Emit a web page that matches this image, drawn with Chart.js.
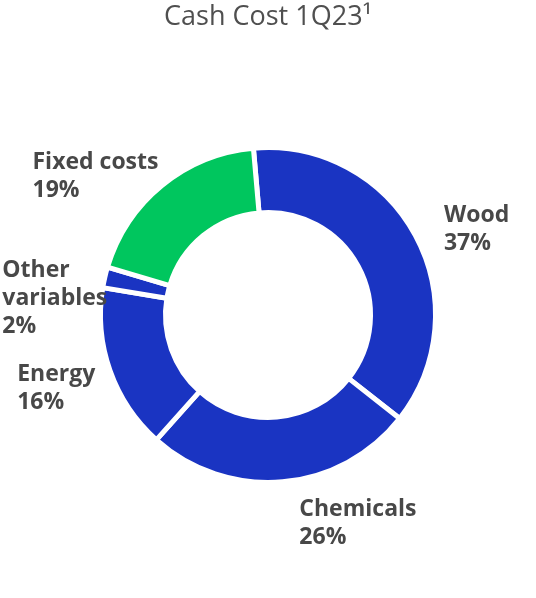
<!DOCTYPE html>
<html>
<head>
<meta charset="utf-8">
<script src="https://cdn.jsdelivr.net/npm/chart.js@4"></script>
<style>
  html, body { margin: 0; padding: 0; background: #ffffff; }
  #wrap { position: relative; width: 536px; height: 598px; }
</style>
</head>
<body>
<div id="wrap"><canvas id="cashCost"></canvas></div>
<script>
// datos del gráfico
var chartTitle = "Cash Cost 1Q23\u00B9";
var categories = ["Wood", "Chemicals", "Energy", "Other variables", "Fixed costs"];
var shares = [37, 26, 16, 2, 19];
var sliceColors = ["#1a34c2", "#1a34c2", "#1a34c2", "#1a34c2", "#00c65e"];

// líneas de cada etiqueta (nombre partido + porcentaje)
var labelLines = [["Wood"], ["Chemicals"], ["Energy"], ["Other", "variables"], ["Fixed costs"]];
// desplazamiento de cada etiqueta respecto a su punto de anclaje en el arco
var labelOffsets = [[11, -4], [15, 14], [-74, 4], [-83, 4], [-117, -1]];

var textColor = "#484848";

// plugin que dibuja el título y las etiquetas fuera del anillo
var outsideLabels = {
    id: "outsideLabels",
    afterDraw: function (chart) {
        var ctx = chart.ctx;
        ctx.save();
        ctx.fillStyle = "#4f4f4f";
        ctx.font = "27px 'Open Sans'";
        ctx.textAlign = "center";
        ctx.textBaseline = "alphabetic";
        ctx.fillText(chartTitle, chart.width / 2, 25);

        var meta = chart.getDatasetMeta(0);
        ctx.font = "bold 23px 'Open Sans'";
        ctx.textAlign = "left";
        ctx.fillStyle = textColor;
        meta.data.forEach(function (arc, i) {
            var p = arc.getProps(["x", "y", "startAngle", "endAngle", "outerRadius"], true);
            var mid = (p.startAngle + p.endAngle) / 2;
            var r = p.outerRadius + 20;
            var ax = p.x + Math.cos(mid) * r;
            var ay = p.y + Math.sin(mid) * r;
            var lines = labelLines[i].concat([shares[i] + "%"]);
            var x = ax + labelOffsets[i][0];
            var y = ay + labelOffsets[i][1];
            lines.forEach(function (line, j) {
                ctx.fillText(line, x, y + j * 28);
            });
        });
        ctx.restore();
    }
};

var ctx = document.getElementById("cashCost").getContext("2d");
var chart = new Chart(ctx, {
    type: "doughnut",
    data: {
        labels: categories,
        datasets: [{
            data: shares,
            backgroundColor: sliceColors,
            borderColor: "#ffffff",
            borderWidth: 5,
            hoverOffset: 0
        }]
    },
    options: {
        responsive: true,
        maintainAspectRatio: false,
        animation: false,
        rotation: -5,
        cutout: "61.2%",
        layout: { padding: { top: 145, bottom: 113, left: 0, right: 0 } },
        plugins: {
            legend: { display: false },
            title: { display: false },
            tooltip: { enabled: false }
        }
    },
    plugins: [outsideLabels]
});
</script>
</body>
</html>
